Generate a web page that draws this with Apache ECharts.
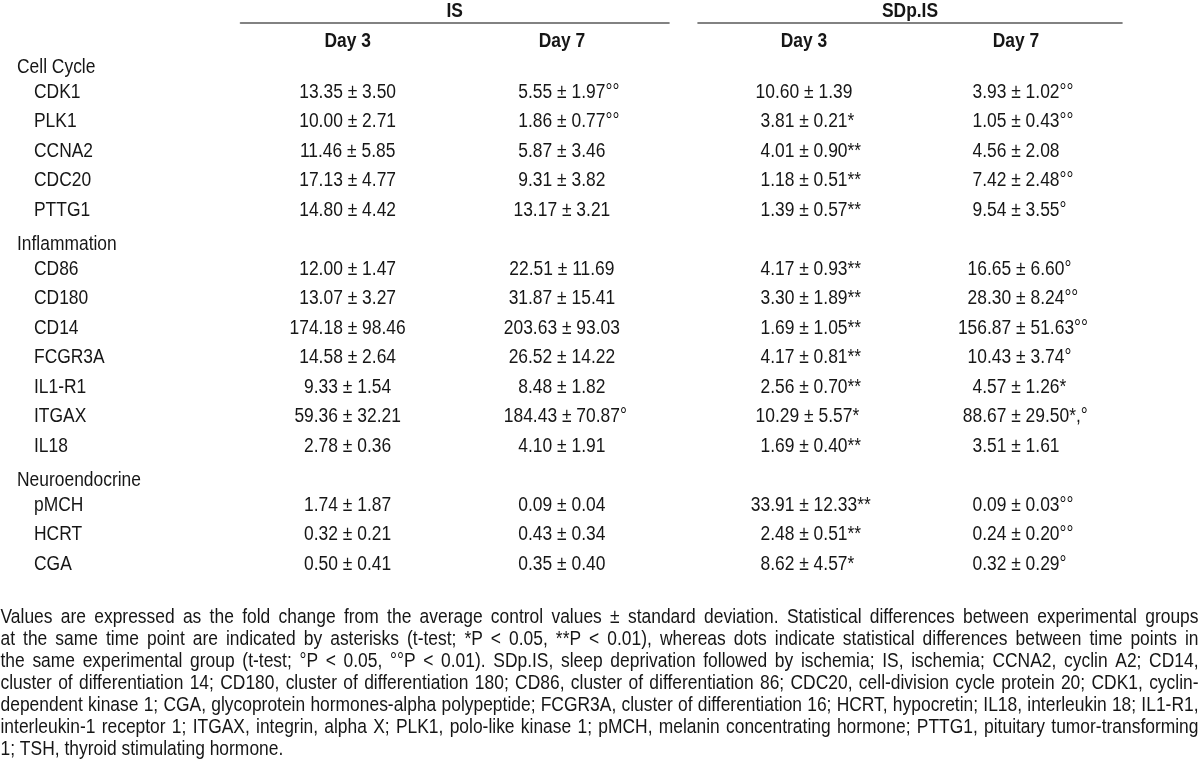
<!DOCTYPE html>
<html><head><meta charset="utf-8">
<script src="https://cdn.jsdelivr.net/npm/echarts@6/dist/echarts.min.js"></script>
<style>html,body{margin:0;padding:0;background:#fff}#c{width:1200px;height:775px}</style>
</head><body><div id="c"></div>
<script>
// ---------- DATA ----------
const conditions = ['IS', 'SDp.IS'];
const days = ['Day 3', 'Day 7'];
const groupNames = ['Cell Cycle', 'Inflammation', 'Neuroendocrine'];
const groupGenes = [
  ['CDK1', 'PLK1', 'CCNA2', 'CDC20', 'PTTG1'],
  ['CD86', 'CD180', 'CD14', 'FCGR3A', 'IL1-R1', 'ITGAX', 'IL18'],
  ['pMCH', 'HCRT', 'CGA']
];
// IS, Day 3
const isD3Mean = [13.35, 10.00, 11.46, 17.13, 14.80, 12.00, 13.07, 174.18, 14.58, 9.33, 59.36, 2.78, 1.74, 0.32, 0.50];
const isD3Sd   = [3.50, 2.71, 5.85, 4.77, 4.42, 1.47, 3.27, 98.46, 2.64, 1.54, 32.21, 0.36, 1.87, 0.21, 0.41];
const isD3Sig  = ['', '', '', '', '', '', '', '', '', '', '', '', '', '', ''];
// IS, Day 7
const isD7Mean = [5.55, 1.86, 5.87, 9.31, 13.17, 22.51, 31.87, 203.63, 26.52, 8.48, 184.43, 4.10, 0.09, 0.43, 0.35];
const isD7Sd   = [1.97, 0.77, 3.46, 3.82, 3.21, 11.69, 15.41, 93.03, 14.22, 1.82, 70.87, 1.91, 0.04, 0.34, 0.40];
const isD7Sig  = ['°°', '°°', '', '', '', '', '', '', '', '', '°', '', '', '', ''];
// SDp.IS, Day 3
const sdD3Mean = [10.60, 3.81, 4.01, 1.18, 1.39, 4.17, 3.30, 1.69, 4.17, 2.56, 10.29, 1.69, 33.91, 2.48, 8.62];
const sdD3Sd   = [1.39, 0.21, 0.90, 0.51, 0.57, 0.93, 1.89, 1.05, 0.81, 0.70, 5.57, 0.40, 12.33, 0.51, 4.57];
const sdD3Sig  = ['', '*', '**', '**', '**', '**', '**', '**', '**', '**', '*', '**', '**', '**', '*'];
// SDp.IS, Day 7
const sdD7Mean = [3.93, 1.05, 4.56, 7.42, 9.54, 16.65, 28.30, 156.87, 10.43, 4.57, 88.67, 3.51, 0.09, 0.24, 0.32];
const sdD7Sd   = [1.02, 0.43, 2.08, 2.48, 3.55, 6.60, 8.24, 51.63, 3.74, 1.26, 29.50, 1.61, 0.03, 0.20, 0.29];
const sdD7Sig  = ['°°', '°°', '', '°°', '°', '°', '°°', '°°', '°', '*', '*,°', '', '°°', '°°', '°'];

const footnoteLines = [
  'Values are expressed as the fold change from the average control values ± standard deviation. Statistical differences between experimental groups',
  'at the same time point are indicated by asterisks (t-test; *P < 0.05, **P < 0.01), whereas dots indicate statistical differences between time points in',
  'the same experimental group (t-test; °P < 0.05, °°P < 0.01). SDp.IS, sleep deprivation followed by ischemia; IS, ischemia; CCNA2, cyclin A2; CD14,',
  'cluster of differentiation 14; CD180, cluster of differentiation 180; CD86, cluster of differentiation 86; CDC20, cell-division cycle protein 20; CDK1, cyclin-',
  'dependent kinase 1; CGA, glycoprotein hormones-alpha polypeptide; FCGR3A, cluster of differentiation 16; HCRT, hypocretin; IL18, interleukin 18; IL1-R1,',
  'interleukin-1 receptor 1; ITGAX, integrin, alpha X; PLK1, polo-like kinase 1; pMCH, melanin concentrating hormone; PTTG1, pituitary tumor-transforming',
  '1; TSH, thyroid stimulating hormone.'
];

// ---------- STYLE / LAYOUT ----------
const FONT = '"Liberation Sans", Arial, sans-serif';
const FS = 20.5;        // font size
const SX = 0.85;        // horizontal condensing (narrow typeface look)
const TXT = '#161616';
const LINE = '#5a5a5a';
const ROW_H = 29.5;
const gridTop = 47.75;

const ctx = document.createElement('canvas').getContext('2d');
function tw(s, size, weight) {
  ctx.font = (weight || 'normal') + ' ' + (size || FS) + 'px ' + FONT;
  return ctx.measureText(s).width * SX;
}

// rows: group header rows + gene rows
const rows = [];
const geneList = [];
groupNames.forEach((g, gi) => {
  rows.push({ name: g, type: 'group' });
  groupGenes[gi].forEach(n => { rows.push({ name: n, type: 'gene' }); geneList.push(n); });
});
const rowNames = rows.map(r => r.name);
const gridH = rows.length * ROW_H;

function txt(x, y, text, align, weight, size) {
  return {
    type: 'text', x: x, y: y, scaleX: SX, scaleY: 1,
    style: {
      text: text, fontFamily: FONT, fontSize: size || FS, fontWeight: weight || 'normal',
      fill: TXT, align: align, verticalAlign: 'middle'
    }
  };
}

// value cells (one custom series per column)
function cellSeries(gridIdx, dayIdx, means, sds, sigs) {
  return {
    type: 'custom', coordinateSystem: 'cartesian2d', xAxisIndex: gridIdx, yAxisIndex: gridIdx,
    silent: true, clip: false,
    data: geneList.map((g, i) => [days[dayIdx], g, i]),
    renderItem: (params, api) => {
      const i = api.value(2);
      const p = api.coord([api.value(0), api.value(1)]);
      const main = means[i].toFixed(2) + ' ± ' + sds[i].toFixed(2);
      const w = tw(main);
      const children = [txt(p[0], p[1], main, 'center')];
      if (sigs[i]) children.push(txt(p[0] + w / 2, p[1], sigs[i], 'left'));
      return { type: 'group', children: children };
    }
  };
}

// row labels (group titles and gene names)
const ROW_X_GROUP = 17, ROW_X_GENE = 34, GROUP_DY = 5;
const rowLabelSeries = {
  type: 'custom', coordinateSystem: 'cartesian2d', xAxisIndex: 0, yAxisIndex: 0,
  silent: true, clip: false,
  data: rows.map((r, i) => [days[0], r.name, i]),
  renderItem: (params, api) => {
    const r = rows[api.value(2)];
    const p = api.coord([api.value(0), api.value(1)]);
    return r.type === 'group'
      ? txt(ROW_X_GROUP, p[1] + GROUP_DY, r.name, 'left')
      : txt(ROW_X_GENE, p[1], r.name, 'left');
  }
};

// column headers: condition over its two days, day under the rule
const HEAD_Y = 11, DAY_Y = 41;
function headerSeries(gridIdx) {
  return {
    type: 'custom', coordinateSystem: 'cartesian2d', xAxisIndex: gridIdx, yAxisIndex: gridIdx,
    silent: true, clip: false,
    data: days.map((d, i) => [d, rowNames[0], i]),
    renderItem: (params, api) => {
      const p = api.coord([api.value(0), api.value(1)]);
      const children = [txt(p[0], DAY_Y, days[api.value(2)], 'center', 'bold')];
      if (api.value(2) === 0) {
        const q = api.coord([days[1], rowNames[0]]);
        children.push(txt((p[0] + q[0]) / 2, HEAD_Y, conditions[gridIdx], 'center', 'bold'));
      }
      return { type: 'group', children: children };
    }
  };
}

function xAx(gridIdx) {
  return {
    type: 'category', gridIndex: gridIdx, data: days, position: 'top', offset: gridTop - 23,
    axisLine: { show: true, lineStyle: { color: LINE, width: 1.6 } },
    axisTick: { show: false }, splitLine: { show: false }, axisLabel: { show: false }
  };
}
function yAx(gridIdx) {
  return { type: 'category', gridIndex: gridIdx, data: rowNames, inverse: true, show: false };
}

// footnote, justified to the full width
const FN_X0 = 0.5, FN_X1 = 1198.5, FN_TOP = 617, FN_STEP = 22;
let fnSize = FS;
const natural = (line, s) => line.split(' ').reduce((a, w) => a + tw(w, s), 0) + (line.split(' ').length - 1) * tw(' ', s);
while (fnSize > 12 && footnoteLines.slice(0, -1).some(l => natural(l, fnSize) > FN_X1 - FN_X0)) fnSize -= 0.25;

const graphics = [];
footnoteLines.forEach((line, li) => {
  const words = line.split(' ');
  const ws = words.map(w => tw(w, fnSize));
  const total = ws.reduce((a, b) => a + b, 0);
  const justify = li < footnoteLines.length - 1;
  const gap = justify ? (FN_X1 - FN_X0 - total) / (words.length - 1) : tw(' ', fnSize);
  let x = FN_X0;
  const y = FN_TOP + li * FN_STEP;
  words.forEach((w, i) => {
    const t = txt(x, y, w, 'left', 'normal', fnSize);
    t.silent = true;
    graphics.push(t);
    x += ws[i] + gap;
  });
});

const chart = echarts.init(document.getElementById('c'), null, { renderer: 'canvas' });
chart.setOption({
  animation: false,
  backgroundColor: '#fff',
  grid: [
    { left: 240.5, width: 428.5, top: gridTop, height: gridH },
    { left: 698, width: 424, top: gridTop, height: gridH }
  ],
  xAxis: [xAx(0), xAx(1)],
  yAxis: [yAx(0), yAx(1)],
  series: [
    headerSeries(0), headerSeries(1), rowLabelSeries,
    cellSeries(0, 0, isD3Mean, isD3Sd, isD3Sig),
    cellSeries(0, 1, isD7Mean, isD7Sd, isD7Sig),
    cellSeries(1, 0, sdD3Mean, sdD3Sd, sdD3Sig),
    cellSeries(1, 1, sdD7Mean, sdD7Sd, sdD7Sig)
  ],
  graphic: graphics
});
</script>
</body></html>
